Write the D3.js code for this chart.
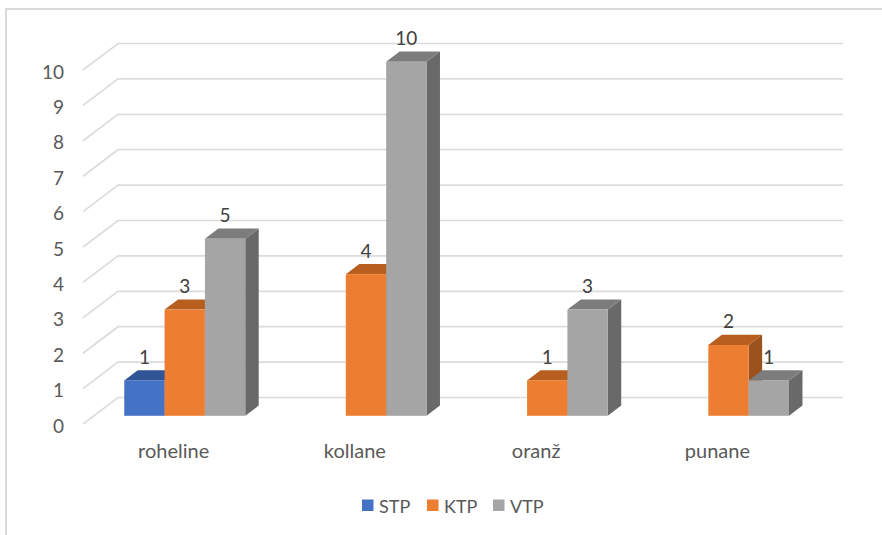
<!DOCTYPE html>
<html>
<head>
<meta charset="utf-8">
<script src="https://cdn.jsdelivr.net/npm/d3@7"></script>
<style>
  html, body { margin: 0; padding: 0; background: #fff; }
  svg { display: block; font-family: Lato, "Open Sans", sans-serif; }
</style>
</head>
<body>
<svg id="chart"></svg>
<script>
const categories = ["roheline", "kollane", "oranž", "punane"];
const seriesNames = ["STP", "KTP", "VTP"];
const stpValues = [1, null, null, null];
const ktpValues = [3, 4, 1, 2];
const vtpValues = [5, 10, 3, 1];
const yTicks = [0, 1, 2, 3, 4, 5, 6, 7, 8, 9, 10];

const seriesValues = [stpValues, ktpValues, vtpValues];

const svgWidth = 882;
const svgHeight = 535;

const colors = {
  STP: { front: "#4472c4", top: "#2f5597", side: "#2b4d8a" },
  KTP: { front: "#ed7d31", top: "#b85f20", side: "#9c521c" },
  VTP: { front: "#a5a5a5", top: "#7c7c7c", side: "#696969" }
};

// depth of the floor, and where the bars sit inside it
const depthX = 35;
const depthY = 26.5;
const barNear = 0.31;
const barFar = 0.695;

const svg = d3.select("#chart")
  .attr("width", svgWidth)
  .attr("height", svgHeight);

const xScale = d3.scaleBand()
  .domain(categories)
  .range([83, 808]);

const seriesScale = d3.scaleBand()
  .domain(seriesNames)
  .range([30.4, 151.4]);

const yScale = d3.scaleLinear()
  .domain([0, 10])
  .range([424, 70]);

// outer frame, open at the right and bottom like the source
svg.append("path")
  .attr("d", `M6,${svgHeight}V9H${svgWidth}`)
  .attr("fill", "none")
  .attr("stroke", "#d9d9d9")
  .attr("stroke-width", 2);

// gridlines: slanted on the side wall, flat along the back wall
svg.append("g")
  .selectAll("path")
  .data(yTicks)
  .enter()
  .append("path")
  .attr("d", d => {
    const x0 = xScale.range()[0];
    const x1 = xScale.range()[1];
    return `M${x0},${yScale(d)}L${x0 + depthX},${yScale(d) - depthY}H${x1 + depthX}`;
  })
  .attr("fill", "none")
  .attr("stroke", "#dcdcdc")
  .attr("stroke-width", 1.7);

const bars = [];
seriesNames.forEach((name, i) => {
  categories.forEach((cat, j) => {
    if (seriesValues[i][j] !== null) {
      bars.push({ name: name, cat: cat, value: seriesValues[i][j] });
    }
  });
});

const barX = d => xScale(d.cat) + seriesScale(d.name) + depthX * barNear;
const barTop = d => yScale(d.value) - depthY * barNear;
const barBase = () => yScale(0) - depthY * barNear;
const stepX = depthX * (barFar - barNear);
const stepY = depthY * (barFar - barNear);
const barW = seriesScale.bandwidth();

// left to right so a bar's front covers the side of its neighbour
const barOrder = bars.slice().sort((a, b) =>
  d3.ascending(categories.indexOf(a.cat), categories.indexOf(b.cat)) ||
  d3.ascending(seriesNames.indexOf(a.name), seriesNames.indexOf(b.name)));

const barGroups = svg.append("g")
  .selectAll("g")
  .data(barOrder)
  .enter()
  .append("g");

barGroups.append("path")
  .attr("fill", d => colors[d.name].side)
  .attr("d", d => {
    const x = barX(d) + barW;
    return `M${x},${barTop(d)}l${stepX},${-stepY}V${barBase() - stepY}L${x},${barBase()}Z`;
  });

barGroups.append("path")
  .attr("fill", d => colors[d.name].top)
  .attr("d", d => `M${barX(d)},${barTop(d)}l${stepX},${-stepY}h${barW}l${-stepX},${stepY}Z`);

barGroups.append("rect")
  .attr("x", barX)
  .attr("y", barTop)
  .attr("width", barW)
  .attr("height", d => barBase() - barTop(d))
  .attr("fill", d => colors[d.name].front);

// value labels
svg.append("g")
  .selectAll("text")
  .data(bars)
  .enter()
  .append("text")
  .attr("x", d => barX(d) + barW / 2)
  .attr("y", d => barTop(d) - 16.5)
  .attr("text-anchor", "middle")
  .attr("font-size", 19)
  .attr("fill", "#404040")
  .text(d => d.value);

// axes
const yAxis = d3.axisLeft(yScale)
  .tickValues(yTicks)
  .tickSize(0)
  .tickPadding(0);

svg.append("g")
  .attr("transform", "translate(64,2)")
  .call(yAxis)
  .call(g => g.select(".domain").remove())
  .call(g => g.selectAll("text")
    .attr("font-size", 19)
    .attr("font-family", "Lato, sans-serif")
    .attr("fill", "#595959"));

const xAxis = d3.axisBottom(xScale)
  .tickSize(0)
  .tickPadding(0);

svg.append("g")
  .attr("transform", "translate(0,444)")
  .call(xAxis)
  .call(g => g.select(".domain").remove())
  .call(g => g.selectAll("text")
    .attr("font-size", 20)
    .attr("font-family", "Lato, sans-serif")
    .attr("fill", "#595959"));

// legend
const legendX = [362, 427, 493];
const legend = svg.append("g")
  .selectAll("g")
  .data(seriesNames)
  .enter()
  .append("g")
  .attr("transform", (d, i) => `translate(${legendX[i]},499.5)`);

legend.append("rect")
  .attr("width", 11.5)
  .attr("height", 11.5)
  .attr("fill", d => colors[d].front);

legend.append("text")
  .attr("x", 17)
  .attr("y", 13)
  .attr("font-size", 18)
  .attr("fill", "#595959")
  .text(d => d);
</script>
</body>
</html>
